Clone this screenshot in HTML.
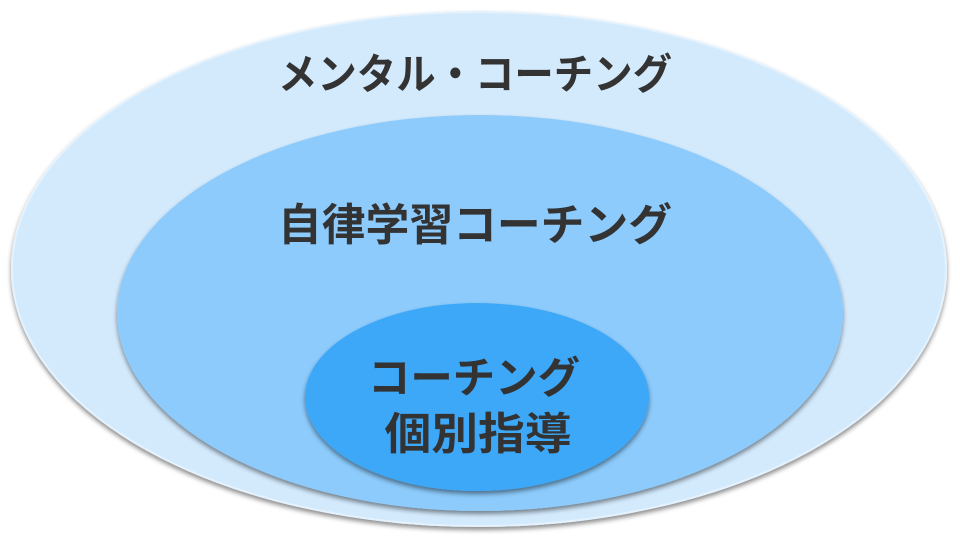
<!DOCTYPE html>
<html><head><meta charset="utf-8"><style>
html,body{margin:0;padding:0;background:#fff;width:960px;height:540px;overflow:hidden}
svg{display:block}
text{font-family:"Liberation Sans","Noto Sans CJK JP",sans-serif;fill:#333;text-anchor:middle;font-weight:bold}
</style></head><body>
<svg width="960" height="540" viewBox="0 0 960 540">
<defs>
<filter id="s" x="-10%" y="-10%" width="120%" height="130%">
<feDropShadow dx="0" dy="3" stdDeviation="2.5" flood-color="#000" flood-opacity="0.45"/>
</filter>
</defs>
<ellipse cx="479" cy="269" rx="467" ry="257" fill="#d3eafd" stroke="#e4f2fe" stroke-width="2" filter="url(#s)"/>
<ellipse cx="480" cy="313" rx="363" ry="198" fill="#8ccbfc" filter="url(#s)"/>
<ellipse cx="477" cy="397" rx="172" ry="94" fill="#3ea7f8" filter="url(#s)"/>
<text x="475" y="89" font-size="42" textLength="394" lengthAdjust="spacingAndGlyphs">メンタル・コーチング</text>
<text x="475" y="240" font-size="44" textLength="394" lengthAdjust="spacingAndGlyphs">自律学習コーチング</text>
<text x="474" y="393" font-size="43" textLength="212" lengthAdjust="spacingAndGlyphs">コーチング</text>
<text x="478" y="449" font-size="44" textLength="187" lengthAdjust="spacingAndGlyphs">個別指導</text>
</svg>
</body></html>
